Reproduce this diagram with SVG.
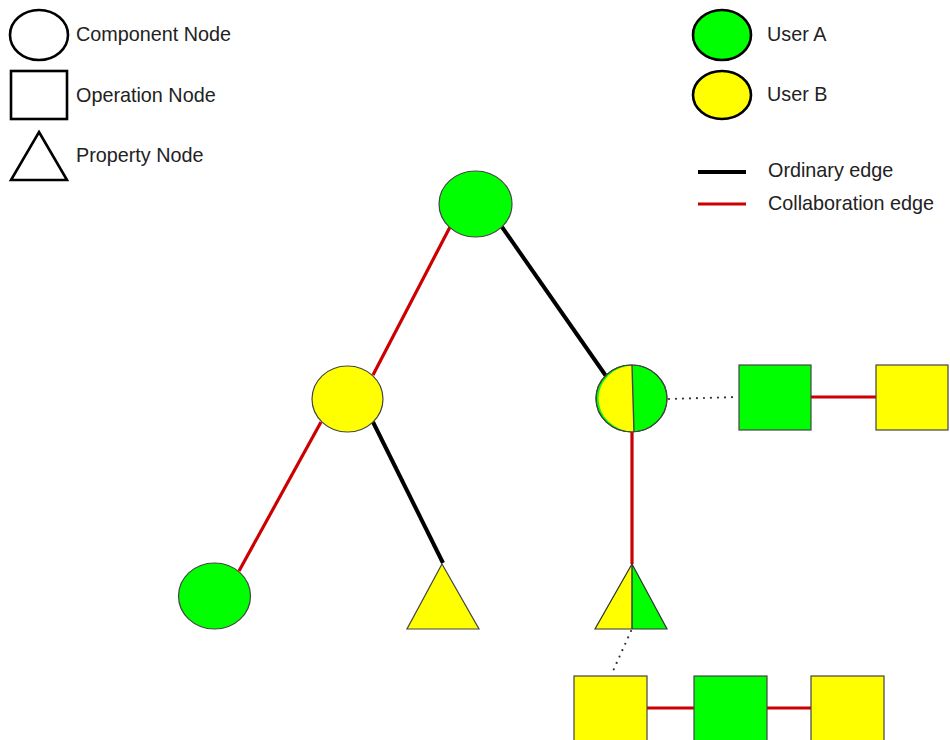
<svg xmlns="http://www.w3.org/2000/svg" width="950" height="740" viewBox="0 0 950 740">
<style>
  .lbl { font-family: "Liberation Sans", Arial, sans-serif; font-size: 19.8px; fill: #222; }
  .leg { fill: #fff; stroke: #000; stroke-width: 2.6; }
  .legc { stroke: #000; stroke-width: 2.6; }
  .node { stroke: #444; stroke-width: 1.2; }
  .g { fill: #00ff00; }
  .y { fill: #ffff00; }
  .red { stroke: #cc0000; stroke-width: 3.2; fill: none; }
  .blk { stroke: #000; stroke-width: 4; fill: none; }
  .dot { stroke: #333; stroke-width: 2.2; stroke-linecap: round; stroke-dasharray: 0 7; fill: none; }
</style>
<defs>
  <clipPath id="leftHalfC"><polygon points="560,360 632,360 634,440 560,440"/></clipPath>
  <clipPath id="leftHalfT"><rect x="580" y="555" width="52" height="80"/></clipPath>
</defs>
<rect width="950" height="740" fill="#fff"/>

<g id="legend">
  <g id="legend-component">
    <ellipse class="leg" cx="39" cy="35" rx="29" ry="25"/>
    <text class="lbl" x="76" y="41">Component Node</text>
  </g>
  <g id="legend-operation">
    <rect class="leg" x="11" y="71" width="56" height="48"/>
    <text class="lbl" x="76" y="102">Operation Node</text>
  </g>
  <g id="legend-property">
    <polygon class="leg" points="39,132 67,180 11,180"/>
    <text class="lbl" x="76" y="162">Property Node</text>
  </g>
  <g id="legend-userA">
    <ellipse class="legc g" cx="722" cy="35" rx="29" ry="25"/>
    <text class="lbl" x="767" y="41">User A</text>
  </g>
  <g id="legend-userB">
    <ellipse class="legc y" cx="722" cy="95" rx="29" ry="24"/>
    <text class="lbl" x="767" y="101">User B</text>
  </g>
  <g id="legend-ordinary">
    <line x1="698" y1="172" x2="746" y2="172" stroke="#000" stroke-width="4"/>
    <text class="lbl" x="768" y="177">Ordinary edge</text>
  </g>
  <g id="legend-collab">
    <line x1="698" y1="204" x2="746" y2="204" stroke="#cc0000" stroke-width="3.2"/>
    <text class="lbl" x="768" y="210">Collaboration edge</text>
  </g>
</g>

<g id="connectors">
  <line class="red" x1="450" y1="227" x2="373" y2="375"/>
  <line class="blk" x1="502" y1="227" x2="606" y2="376"/>
  <line class="red" x1="321" y1="422" x2="239" y2="571"/>
  <line class="blk" x1="373" y1="422" x2="443" y2="563"/>
  <line class="red" x1="632" y1="432" x2="632" y2="564"/>
  <line class="dot" x1="669" y1="399" x2="738" y2="397"/>
  <line class="red" x1="811" y1="397" x2="876" y2="397"/>
  <line class="dot" x1="631" y1="631" x2="613" y2="671"/>
  <line class="red" x1="647" y1="708" x2="694" y2="708"/>
  <line class="red" x1="767" y1="708" x2="811" y2="708"/>
</g>

<g id="root">
  <ellipse class="node g" cx="475.5" cy="204" rx="36.5" ry="33"/>
</g>
<g id="comp-left">
  <ellipse class="node y" cx="347.5" cy="399" rx="35.5" ry="33"/>
</g>
<g id="comp-bottom-left">
  <ellipse class="node g" cx="214.5" cy="596" rx="36" ry="33"/>
</g>
<g id="prop-yellow">
  <polygon class="node y" points="442,564 479,629 407,629"/>
</g>
<g id="comp-split">
  <ellipse class="node g" cx="631.5" cy="398.5" rx="35.5" ry="33.5"/>
  <ellipse class="y" cx="633.5" cy="398.5" rx="35" ry="33" clip-path="url(#leftHalfC)"/>
  <ellipse cx="631.5" cy="398.5" rx="35.5" ry="33.5" fill="none" stroke="#444" stroke-width="1.2"/>
  <line x1="632" y1="365" x2="634" y2="432" stroke="#444" stroke-width="1.4"/>
</g>
<g id="op-green-right">
  <rect class="node g" x="739" y="365" width="72" height="65"/>
</g>
<g id="op-yellow-right">
  <rect class="node y" x="876" y="365" width="72" height="65"/>
</g>
<g id="prop-split">
  <polygon class="g" points="632,564 667,629 595,629"/>
  <polygon class="y" points="632,564 667,629 595,629" clip-path="url(#leftHalfT)"/>
  <polygon points="632,564 667,629 595,629" fill="none" stroke="#333" stroke-width="1.2"/>
  <line x1="632" y1="564" x2="632" y2="629" stroke="#333" stroke-width="1.4"/>
</g>
<g id="op-bottom-1">
  <rect class="node y" x="574" y="676" width="73" height="65"/>
</g>
<g id="op-bottom-2">
  <rect class="node g" x="694" y="676" width="73" height="65"/>
</g>
<g id="op-bottom-3">
  <rect class="node y" x="811" y="676" width="73" height="65"/>
</g>
</svg>
